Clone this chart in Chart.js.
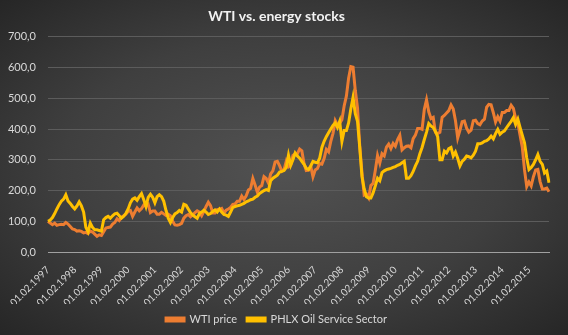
<!DOCTYPE html>
<html lang="en">
<head>
    <meta charset="UTF-8">
    <title>WTI vs. energy stocks</title>
    <script src="https://cdn.jsdelivr.net/npm/chart.js"></script>
    <style>
        body {
            margin: 0;
            padding: 0;
            background: #262626;
        }
        #chart {
            display: block;
            background: radial-gradient(ellipse at 50% 50%, #525252 0%, #3f3f3f 55%, #262626 100%);
        }
    </style>
</head>
<body>
    <canvas id="chart" width="568" height="335"></canvas>

    <script>
        // Monthly series, indexed to Feb 1997 = 100 (Feb 1997 .. Nov 2015)
        const startYear = 1997;
        const startMonth = 2;

        const wtiPrice = [
            100, 94, 89, 94, 87, 89, 90, 89, 96, 91, 83,
            75, 73, 68, 69, 67, 62, 64, 60, 68, 65, 58, 51,
            56, 54, 66, 78, 80, 81, 91, 96, 108, 102, 113, 118,
            123, 132, 135, 116, 130, 143, 134, 141, 153, 149, 155, 128,
            133, 133, 123, 123, 129, 124, 119, 123, 118, 100, 88, 87,
            89, 93, 110, 118, 122, 115, 121, 128, 134, 130, 118, 132,
            148, 162, 151, 127, 127, 138, 139, 142, 127, 136, 140, 145,
            155, 156, 165, 165, 182, 171, 183, 202, 207, 239, 218, 195,
            211, 216, 245, 239, 224, 254, 264, 293, 295, 281, 263, 268,
            295, 277, 283, 314, 319, 320, 335, 329, 287, 265, 266, 279,
            245, 267, 272, 288, 286, 304, 334, 326, 360, 386, 427, 413,
            419, 430, 475, 507, 565, 603, 601, 526, 469, 345, 258, 185,
            188, 176, 216, 223, 266, 314, 289, 320, 313, 341, 351, 336,
            353, 344, 366, 380, 332, 339, 344, 345, 339, 369, 380, 402,
            402, 399, 464, 495, 456, 434, 438, 389, 385, 389, 438, 444,
            452, 460, 478, 465, 427, 371, 396, 424, 426, 403, 390, 396,
            427, 429, 418, 414, 426, 432, 471, 480, 479, 453, 423, 440,
            426, 454, 454, 460, 460, 477, 467, 435, 420, 380, 341, 267,
            213, 228, 215, 245, 267, 269, 229, 205, 205, 208, 196
        ];

        const phlxOsx = [
            100, 104, 112, 125, 140, 154, 165, 172, 186, 166, 158,
            148, 140, 150, 163, 150, 130, 80, 66, 94, 80, 72, 72,
            70, 68, 105, 112, 116, 110, 118, 124, 126, 118, 110, 116,
            126, 140, 160, 172, 176, 168, 180, 190, 170, 148, 178, 188,
            178, 160, 180, 186, 180, 165, 135, 110, 96, 112, 124, 128,
            135, 130, 155, 152, 140, 128, 120, 115, 110, 125, 130, 136,
            130, 122, 125, 132, 137, 130, 140, 130, 122, 120, 116, 130,
            145, 148, 150, 152, 155, 158, 163, 166, 170, 172, 178, 182,
            190, 195, 200, 203, 200, 232, 240, 245, 250, 260, 262, 265,
            275, 315, 282, 300, 322, 312, 305, 295, 285, 272, 268, 280,
            295, 292, 290, 305, 340, 360, 375, 388, 400, 412, 420, 405,
            425, 360, 395, 395, 420, 465, 503, 450, 425, 340, 245, 205,
            180, 176, 176, 192, 215, 240, 232, 258, 264, 268, 270, 272,
            275, 278, 282, 285, 290, 295, 240, 240, 248, 262, 280, 295,
            320, 340, 366, 390, 418, 410, 405, 392, 375, 300, 300, 328,
            322, 336, 340, 312, 325, 305, 280, 295, 302, 312, 310, 306,
            315, 328, 352, 352, 355, 360, 362, 368, 377, 368, 385, 399,
            383, 390, 394, 405, 415, 425, 437, 415, 432, 405, 380, 355,
            306, 268, 275, 285, 300, 317, 295, 285, 257, 263, 225, 252
        ];

        const seriesNames = ['WTI price', 'PHLX Oil Service Sector'];
        const seriesColors = ['#ED7D31', '#FFC000'];
        const yTicks = [0, 100, 200, 300, 400, 500, 600, 700];

        // category labels 01.MM.YYYY
        const labels = [];
        for (let k = 0; k < wtiPrice.length; k++) {
            const m = (startMonth - 1 + k) % 12 + 1;
            const y = startYear + Math.floor((startMonth - 1 + k) / 12);
            labels.push('01.' + String(m).padStart(2, '0') + '.' + y);
        }

        const textColor = '#d9d9d9';
        const font = "Lato, 'Open Sans', sans-serif";

        new Chart(document.getElementById('chart'), {
            type: 'line',
            data: {
                labels: labels,
                datasets: [
                    {
                        label: seriesNames[0],
                        data: wtiPrice,
                        borderColor: seriesColors[0],
                        backgroundColor: seriesColors[0],
                        borderWidth: 3,
                        pointRadius: 0,
                        tension: 0,
                        order: 2
                    },
                    {
                        label: seriesNames[1],
                        data: phlxOsx,
                        borderColor: seriesColors[1],
                        backgroundColor: seriesColors[1],
                        borderWidth: 3,
                        pointRadius: 0,
                        tension: 0,
                        order: 1
                    }
                ]
            },
            options: {
                responsive: false,
                animation: false,
                layout: {
                    padding: { left: 4, right: 19, top: 4, bottom: 0 }
                },
                plugins: {
                    title: {
                        display: true,
                        text: 'WTI vs. energy stocks',
                        color: '#f2f2f2',
                        font: { family: font, size: 14, weight: 'bold' },
                        padding: { top: 4, bottom: 12 }
                    },
                    legend: {
                        position: 'bottom',
                        labels: {
                            color: textColor,
                            font: { family: font, size: 11 },
                            boxWidth: 18,
                            boxHeight: 3,
                            padding: 10,
                            sort: (a, b) => a.datasetIndex - b.datasetIndex
                        }
                    },
                    tooltip: { enabled: false }
                },
                scales: {
                    x: {
                        grid: { display: false },
                        border: { color: '#a0a0a0', width: 1 },
                        ticks: {
                            color: textColor,
                            font: { family: font, size: 10 },
                            autoSkip: false,
                            minRotation: 45,
                            maxRotation: 45,
                            padding: 4,
                            callback: function (v, i) {
                                return i % 12 === 0 ? labels[i] : null;
                            }
                        },
                        afterFit: s => { s.height = 52; }
                    },
                    y: {
                        min: 0,
                        max: 700,
                        afterBuildTicks: s => { s.ticks = yTicks.map(v => ({ value: v })); },
                        grid: { color: '#5c5c5c', drawTicks: false },
                        border: { display: false },
                        ticks: {
                            color: textColor,
                            font: { family: font, size: 11 },
                            padding: 12,
                            callback: v => v.toFixed(1).replace('.', ',')
                        },
                        afterFit: s => { s.width = 44; }
                    }
                }
            }
        });
    </script>
</body>
</html>
